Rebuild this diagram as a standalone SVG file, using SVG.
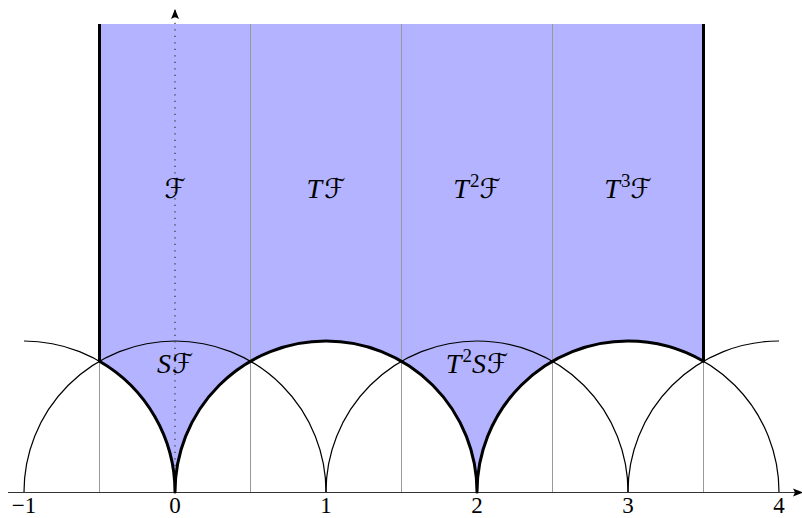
<svg xmlns="http://www.w3.org/2000/svg" width="802" height="518" viewBox="0 0 802 518">
<style>
.thin{fill:none;stroke:#000;stroke-width:1.2}
.thick{fill:none;stroke:#000;stroke-width:3;stroke-linejoin:round}
.grid{stroke:#999;stroke-width:1}
.lbl{font-family:"Liberation Serif","Times New Roman",serif;font-size:28px;font-style:italic;text-anchor:middle;fill:#000}
.cal{font-family:"DejaVu Serif","DejaVu Sans",serif;font-style:normal;font-size:27px}
.sup{font-family:"Liberation Serif",serif;font-style:normal;font-size:19px}
.tick{font-family:"Liberation Serif","Times New Roman",serif;font-size:23px;text-anchor:middle;fill:#000}
</style>
<defs>
<marker id="arr" viewBox="0 0 10 10" refX="9" refY="5" markerWidth="10" markerHeight="10" markerUnits="userSpaceOnUse" orient="auto">
<path d="M0,1 L10,5 L0,9 L2,5 Z" fill="#000"/>
</marker>
</defs>
<g id="region">
<path d="M99.5,24 L703.5,24 L703.5,361.23 A151,151 0 0,0 628,341 A151,151 0 0,0 477,492 A151,151 0 0,0 326,341 A151,151 0 0,0 175,492 A151,151 0 0,0 99.5,361.23 Z" fill="#b3b3ff"/>
</g>
<g id="grid">
<line class="grid" x1="99.5" y1="361" x2="99.5" y2="492"/>
<line class="grid" x1="250.5" y1="24" x2="250.5" y2="492"/>
<line class="grid" x1="401.5" y1="24" x2="401.5" y2="492"/>
<line class="grid" x1="552.5" y1="24" x2="552.5" y2="492"/>
<line class="grid" x1="703.5" y1="361" x2="703.5" y2="492"/>
</g>
<g id="circles">
<path class="thin" d="M24,341 A151,151 0 0,1 175,492"/>
<path class="thin" d="M24,492 A151,151 0 0,1 175,341 A151,151 0 0,1 326,492"/>
<path class="thin" d="M326,492 A151,151 0 0,1 477,341 A151,151 0 0,1 628,492"/>
<path class="thin" d="M477,492 A151,151 0 0,1 628,341 A151,151 0 0,1 779,492"/>
<path class="thin" d="M628,492 A151,151 0 0,1 779,341"/>
</g>
<g id="axes">
<line x1="175" y1="492" x2="175" y2="10" stroke="#333" stroke-width="1.2" stroke-dasharray="1.2 5.3" marker-end="url(#arr)"/>
<line x1="8" y1="492.5" x2="802" y2="492.5" stroke="#333" stroke-width="1.2" marker-end="url(#arr)"/>
</g>
<g id="boundary">
<path class="thick" d="M99.5,24 L99.5,361.23 A151,151 0 0,1 175,492 A151,151 0 0,1 326,341 A151,151 0 0,1 477,492 A151,151 0 0,1 628,341 A151,151 0 0,1 703.5,361.23 L703.5,24"/>
</g>
<g id="labels">
<text class="lbl" x="175" y="198"><tspan class="cal">ℱ</tspan></text>
<text class="lbl" x="326" y="198">T<tspan class="cal" dx="2">ℱ</tspan></text>
<text class="lbl" x="477" y="198">T<tspan class="sup" dx="1" dy="-11">2</tspan><tspan class="cal" dy="11">ℱ</tspan></text>
<text class="lbl" x="628" y="198">T<tspan class="sup" dx="1" dy="-11">3</tspan><tspan class="cal" dy="11">ℱ</tspan></text>
<text class="lbl" x="175" y="373">S<tspan class="cal" dx="1">ℱ</tspan></text>
<text class="lbl" x="477" y="373">T<tspan class="sup" dx="1" dy="-11">2</tspan><tspan dy="11">S</tspan><tspan class="cal" dx="1">ℱ</tspan></text>
</g>
<g id="ticks">
<text class="tick" x="24" y="513">−1</text>
<text class="tick" x="175" y="513">0</text>
<text class="tick" x="326" y="513">1</text>
<text class="tick" x="477" y="513">2</text>
<text class="tick" x="628" y="513">3</text>
<text class="tick" x="779" y="513">4</text>
</g>
</svg>
